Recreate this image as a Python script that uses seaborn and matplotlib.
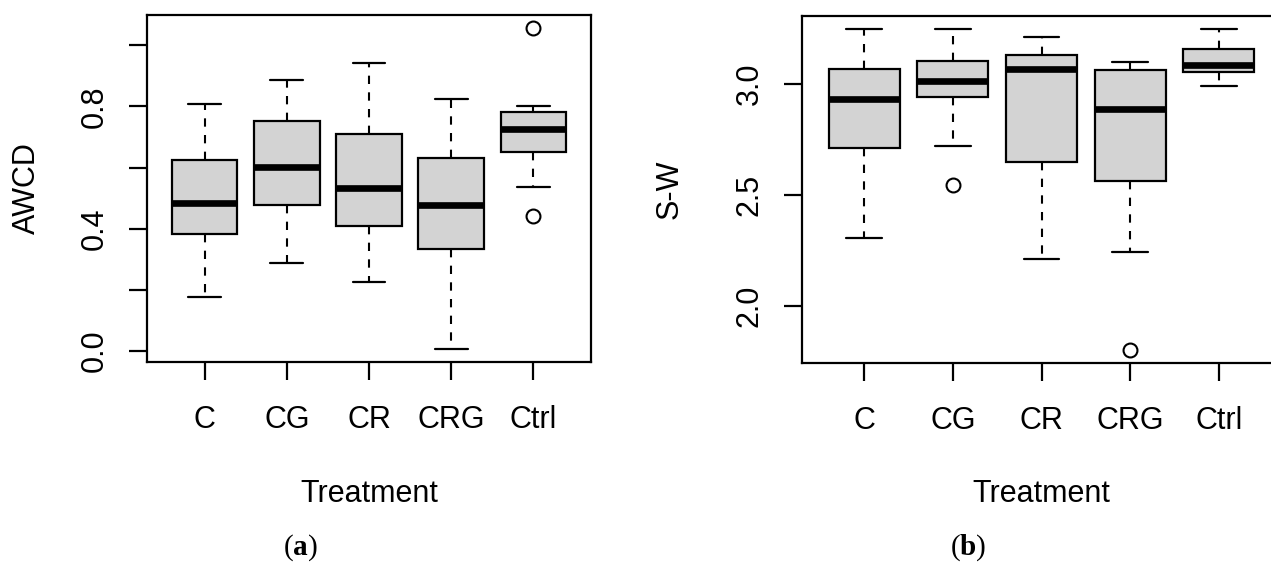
import numpy as np
import pandas as pd
import matplotlib
matplotlib.use("Agg")
import matplotlib.pyplot as plt
import seaborn as sns

# ---------------- data ----------------
treatments = ["C", "CG", "CR", "CRG", "Ctrl"]

awcd_whisker_low = [0.178, 0.287, 0.226, 0.006, 0.538]
awcd_q1 = [0.383, 0.478, 0.408, 0.335, 0.650]
awcd_median = [0.483, 0.602, 0.533, 0.478, 0.726]
awcd_q3 = [0.624, 0.751, 0.711, 0.632, 0.782]
awcd_whisker_high = [0.808, 0.887, 0.943, 0.825, 0.801]
awcd_outlier_low = [None, None, None, None, 0.441]
awcd_outlier_high = [None, None, None, None, 1.057]

sw_whisker_low = [2.307, 2.718, 2.211, 2.241, 2.991]
sw_q1 = [2.711, 2.938, 2.646, 2.560, 3.054]
sw_median = [2.932, 3.012, 3.065, 2.884, 3.083]
sw_q3 = [3.068, 3.102, 3.131, 3.060, 3.155]
sw_whisker_high = [3.245, 3.247, 3.212, 3.099, 3.245]
sw_outlier_low = [None, 2.542, None, 1.800, None]
sw_outlier_high = [None, None, None, None, None]

awcd_ticks = [0.0, 0.2, 0.4, 0.6, 0.8, 1.0]
awcd_ticklabels = ["0.0", "", "0.4", "", "0.8", ""]
sw_ticks = [2.0, 2.5, 3.0]
sw_ticklabels = ["2.0", "2.5", "3.0"]


def build_frame(name, lo_out, lo, q1, med, q3, hi, hi_out):
    """Sample of 9 values per group whose quartiles/whiskers/outliers match the
    five-number summaries read from the figure."""
    rows = []
    for i, t in enumerate(treatments):
        vals = [lo_out[i] if lo_out[i] is not None else lo[i], lo[i],
                q1[i], med[i], med[i], med[i], q3[i],
                hi[i], hi_out[i] if hi_out[i] is not None else hi[i]]
        for v in vals:
            rows.append({"Treatment": t, name: v})
    return pd.DataFrame(rows)


df_awcd = build_frame("AWCD", awcd_outlier_low, awcd_whisker_low, awcd_q1,
                      awcd_median, awcd_q3, awcd_whisker_high, awcd_outlier_high)
df_sw = build_frame("S-W", sw_outlier_low, sw_whisker_low, sw_q1,
                    sw_median, sw_q3, sw_whisker_high, sw_outlier_high)

# ---------------- style ----------------
sns.set_style("ticks")
plt.rcParams["font.family"] = ["Liberation Sans", "DejaVu Sans"]
plt.rcParams["text.color"] = "black"
plt.rcParams["axes.labelcolor"] = "black"
plt.rcParams["xtick.color"] = "black"
plt.rcParams["ytick.color"] = "black"
plt.rcParams["mathtext.fontset"] = "custom"
plt.rcParams["mathtext.rm"] = "Liberation Serif"
plt.rcParams["mathtext.bf"] = "Liberation Serif:bold"

W, H = 1271, 562
fig = plt.figure(figsize=(W / 100, H / 100), dpi=100)
ax1 = fig.add_axes([147 / W, 200 / H, 444 / W, 347 / H])
ax2 = fig.add_axes([802 / W, 199 / H, 479 / W, 347 / H])

box_kws = dict(
    order=treatments, color="#D3D3D3", saturation=1, linecolor="black",
    linewidth=1.6, width=0.8, whis=1.5,
    whiskerprops=dict(linestyle=(0, (4, 4)), linewidth=1.5),
    medianprops=dict(linewidth=4.8, color="black"),
    capprops=dict(linewidth=1.6),
    flierprops=dict(marker="o", markerfacecolor="none", markeredgecolor="black",
                    markersize=10, markeredgewidth=1.5),
)


def style_axis(ax, df, col, ticks, ticklabels, sizefont):
    sns.boxplot(data=df, x="Treatment", y=col, ax=ax, **box_kws)
    vals = df[col].to_numpy()
    lo, hi = vals.min(), vals.max()
    pad = 0.04 * (hi - lo)
    ax.set_ylim(lo - pad, hi + pad)
    ax.set_xlim(-0.7, len(treatments) - 0.3)
    ax.set_yticks(ticks)
    ax.set_yticklabels(ticklabels, rotation=90, va="center")
    for s in ax.spines.values():
        s.set_visible(True)
        s.set_linewidth(1.6)
        s.set_color("black")
    ax.tick_params(axis="both", direction="out", length=13, width=1.6,
                   color="black", labelcolor="black", labelsize=sizefont)
    ax.tick_params(axis="x", pad=18)
    ax.tick_params(axis="y", pad=14)
    ax.set_xlabel("Treatment", fontsize=sizefont, va="center", color="black")
    ax.set_ylabel(col, fontsize=sizefont, va="center", color="black")
    ax.grid(False)


style_axis(ax1, df_awcd, "AWCD", awcd_ticks, awcd_ticklabels, 22)
style_axis(ax2, df_sw, "S-W", sw_ticks, sw_ticklabels, 22)

ax1.xaxis.set_label_coords(0.5, (362 - 494) / 347)
ax1.yaxis.set_label_coords((27 - 147) / 444, 0.5)
ax2.xaxis.set_label_coords(0.5, (363 - 494) / 347)
ax2.yaxis.set_label_coords((670 - 802) / 479, 0.5)

fig.text(300 / W, 1 - 548 / H, r"$\mathrm{(}\mathbf{a}\mathrm{)}$",
         ha="center", va="center", fontsize=21, color="black")
fig.text(968 / W, 1 - 548 / H, r"$\mathrm{(}\mathbf{b}\mathrm{)}$",
         ha="center", va="center", fontsize=21, color="black")

fig.savefig("out.png", dpi=100, facecolor="white")
